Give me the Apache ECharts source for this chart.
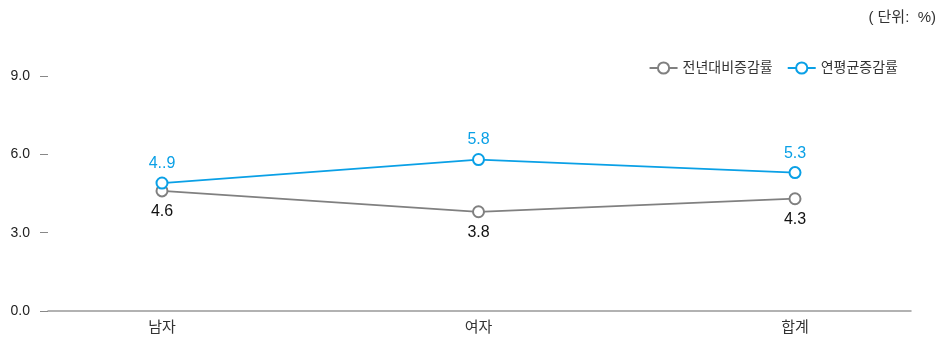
<!DOCTYPE html>
<html>
<head>
<meta charset="utf-8">
<script src="https://cdn.jsdelivr.net/npm/echarts@6/dist/echarts.min.js"></script>
<style>
  html, body { margin: 0; padding: 0; background: #fff; }
  #chart { width: 949px; height: 337px; }
</style>
</head>
<body>
<div id="chart"></div>
<script>
// Categories and series values
const categories = ['남자', '여자', '합계'];
const yoyRate = [4.6, 3.8, 4.3];      // 전년대비증감률
const cagrRate = [4.9, 5.8, 5.3];     // 연평균증감률
const cagrLabels = ['4..9', '5.8', '5.3'];
const yTicks = [0, 3, 6, 9];

const FONT = '"Liberation Sans", Arial, "Noto Sans CJK KR", sans-serif';
const GRAY = '#808080';
const BLUE = '#0aa0e6';

const chart = echarts.init(document.getElementById('chart'));

chart.setOption({
  animation: false,
  textStyle: { fontFamily: FONT },
  title: {
    text: '( 단위:  %)',
    right: 8,
    top: 5,
    textStyle: { fontSize: 15, fontWeight: 'normal', color: '#333', fontFamily: FONT }
  },
  legend: {
    right: 46,
    top: 56,
    itemWidth: 28,
    itemHeight: 14,
    itemGap: 14,
    textStyle: { fontSize: 14, color: '#333', fontFamily: FONT },
    data: ['전년대비증감률', '연평균증감률']
  },
  grid: [
    // data area: categories sit on the plot edges
    { left: 162, right: 154, top: 76, bottom: 26 },
    // frame area: axis line and y labels
    { left: 48, right: 38, top: 76, bottom: 26 }
  ],
  xAxis: [
    {
      gridIndex: 0,
      type: 'category',
      data: categories,
      boundaryGap: false,
      axisLine: { show: false },
      axisTick: { show: false },
      axisLabel: { color: '#333', fontSize: 15, margin: 9, fontFamily: FONT }
    },
    {
      gridIndex: 1,
      type: 'value',
      min: 0, max: 1,
      axisLine: { show: true, lineStyle: { color: '#999', width: 1.5 } },
      axisTick: { show: false },
      axisLabel: { show: false },
      splitLine: { show: false }
    }
  ],
  yAxis: [
    {
      gridIndex: 0,
      type: 'value',
      min: yTicks[0], max: yTicks[yTicks.length - 1], interval: 3,
      show: false
    },
    {
      gridIndex: 1,
      type: 'value',
      min: yTicks[0], max: yTicks[yTicks.length - 1], interval: 3,
      offset: 6,
      axisLine: { show: false },
      axisTick: { show: true, length: 8, lineStyle: { color: '#888' } },
      axisLabel: {
        color: '#222', fontSize: 14, margin: 12,
        formatter: v => v.toFixed(1)
      },
      splitLine: { show: false }
    }
  ],
  series: [
    {
      name: '전년대비증감률',
      type: 'line',
      xAxisIndex: 0, yAxisIndex: 0,
      data: yoyRate,
      symbol: 'emptyCircle',
      symbolSize: 11,
      itemStyle: { color: GRAY, borderWidth: 2.5 },
      lineStyle: { color: GRAY, width: 1.8 },
      label: {
        show: true, position: 'bottom', distance: 6,
        color: '#111', fontSize: 16,
        formatter: p => p.value.toFixed(1)
      }
    },
    {
      name: '연평균증감률',
      type: 'line',
      xAxisIndex: 0, yAxisIndex: 0,
      data: cagrRate,
      symbol: 'emptyCircle',
      symbolSize: 11,
      itemStyle: { color: BLUE, borderWidth: 2.5 },
      lineStyle: { color: BLUE, width: 1.8 },
      label: {
        show: true, position: 'top', distance: 5,
        color: BLUE, fontSize: 16,
        formatter: p => cagrLabels[p.dataIndex]
      }
    }
  ]
});
</script>
</body>
</html>
